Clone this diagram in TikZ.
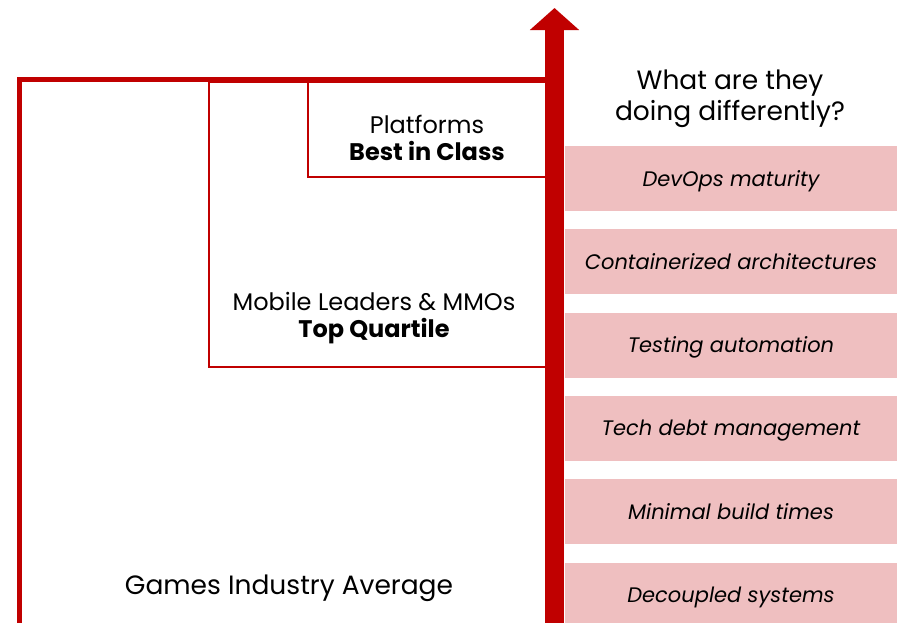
\documentclass[tikz,border=0pt]{standalone}
\usepackage{fontspec}
\setmainfont{Poppins}
\usetikzlibrary{arrows.meta, positioning}
\definecolor{deepred}{HTML}{C00000}
\definecolor{softpink}{HTML}{EFBFC0}

\begin{document}
\begin{tikzpicture}[x=1pt, y=-1pt,
    frame/.style={draw=deepred, anchor=north west, inner sep=0pt, outer sep=0pt},
    practice/.style={fill=softpink, minimum width=332pt, minimum height=65pt, inner sep=0pt, outer sep=0pt, text height=15pt, text depth=0pt, font=\fontsize{21}{25}\selectfont\itshape},
    tier/.style={align=center, font=\fontsize{24}{27}\selectfont},
    growth/.style={line width=19pt, draw=deepred, fill=deepred, -{Triangle[width=48pt, length=22pt]}}
]
\useasboundingbox (0,0) rectangle (897,622);

% nested tiers
\node[frame, line width=5pt, minimum width=535pt, minimum height=580pt] (avg) at (19.5,79) {};
\node[frame, line width=2pt, minimum width=346pt, minimum height=285pt] (topq) at (209,82) {};
\node[frame, line width=2pt, minimum width=246pt, minimum height=95pt] (best) at (308,82) {};

\node[tier] (bestlbl) at (427,138) {Platforms\\\textbf{Best in Class}};
\node[tier] (topqlbl) at (374,318) {Mobile Leaders \& MMOs\\\textbf{Top Quartile}};
\node[tier, font=\fontsize{26.5}{30}\selectfont] (avglbl) at (289,588) {Games Industry Average};

% practices
\node[font=\fontsize{26.5}{31.5}\selectfont, align=center] (question) at (730,99) {What are they\\doing differently?};
\node[practice] (devops) at (731,178.5) {DevOps maturity};
\node[practice, below=18.3pt of devops] (contain) {Containerized architectures};
\node[practice, below=18.3pt of contain] (testing) {Testing automation};
\node[practice, below=18.3pt of testing] (debt) {Tech debt management};
\node[practice, below=18.3pt of debt] (build) {Minimal build times};
\node[practice, below=18.3pt of build] (decouple) {Decoupled systems};

% axis
\coordinate (axisfoot) at (554.5,640);
\coordinate (axistip) at (554.5,8);
\draw[growth] (axisfoot) -- (axistip);
\end{tikzpicture}
\end{document}
